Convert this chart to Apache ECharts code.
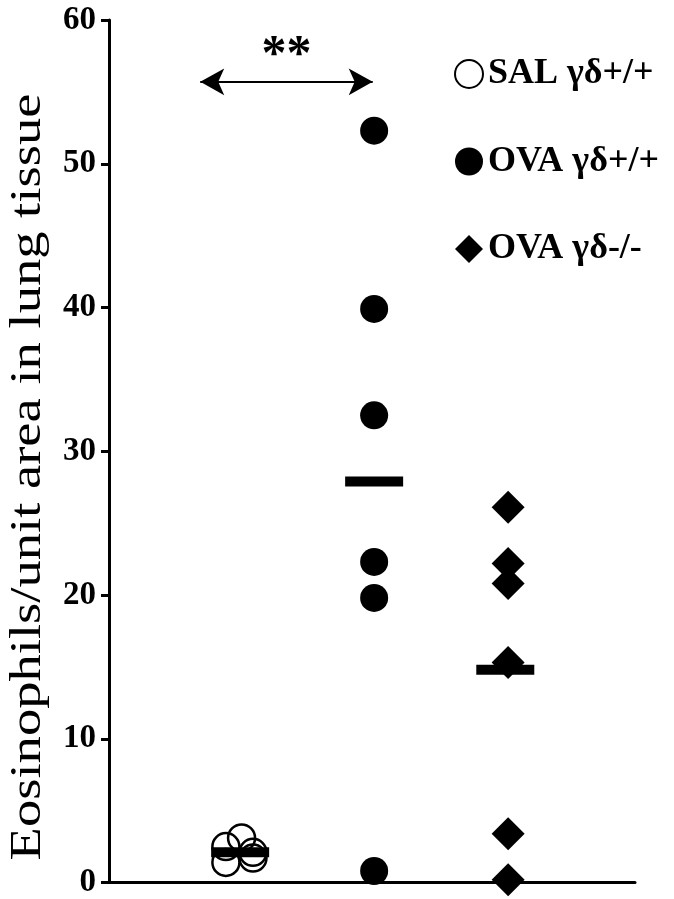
<!DOCTYPE html>
<html>
<head>
<meta charset="utf-8">
<script src="https://cdn.jsdelivr.net/npm/echarts@6/dist/echarts.min.js"></script>
<style>
  html, body { margin: 0; padding: 0; background: #fff; }
  #chart { width: 674px; height: 899px; }
</style>
</head>
<body>
<div id="chart"></div>
<script>
// group names (legend)
var groupNames = ['SAL γδ+/+', 'OVA γδ+/+', 'OVA γδ-/-'];

// x positions (hidden value axis, group centres plus small jitter)
var salX = [0.93, 0.82, 1.01, 0.82, 1.01];
var ovaPosX = [1.86, 1.86, 1.86, 1.86, 1.86, 1.86];
var ovaNegX = [2.80, 2.80, 2.80, 2.80, 2.80, 2.80];

// eosinophils / unit area
var salY = [3.1, 2.5, 2.1, 1.4, 1.7];
var ovaPosY = [52.3, 39.9, 32.5, 22.3, 19.8, 0.8];
var ovaNegY = [26.1, 22.2, 20.8, 15.3, 3.4, 0.2];

// group means (horizontal bars)
var meanX = [0.92, 1.86, 2.78];
var meanY = [2.1, 27.9, 14.8];

// significance bracket between SAL and OVA+/+
var arrowX = [0.64, 1.85];
var arrowY = 55.7;

var yTicks = [0, 10, 20, 30, 40, 50, 60];

function pairs(xs, ys) {
  return ys.map(function (v, i) { return [xs[i], v]; });
}

var serif = '"Liberation Serif", "Times New Roman", serif';

var chart = echarts.init(document.getElementById('chart'));
chart.setOption({
  backgroundColor: '#fff',
  animation: false,
  grid: { left: 109, right: 39, top: 20, bottom: 16 },
  legend: {
    data: groupNames,
    orient: 'vertical',
    left: 449,
    top: 51,
    itemGap: 51.5,
    itemWidth: 28,
    itemHeight: 28,
    selectedMode: false,
    textStyle: { fontFamily: serif, fontWeight: 'bold', fontSize: 36, color: '#000', padding: [0, 0, 0, 0] }
  },
  xAxis: {
    type: 'value',
    min: 0,
    max: 3.69,
    axisLine: { show: true, onZero: false, lineStyle: { color: '#000', width: 3 } },
    axisTick: { show: false },
    axisLabel: { show: false },
    splitLine: { show: false }
  },
  yAxis: {
    type: 'value',
    min: yTicks[0],
    max: yTicks[yTicks.length - 1],
    interval: 10,
    axisLine: { show: true, lineStyle: { color: '#000', width: 3 } },
    axisTick: { show: true, inside: false, length: 8, lineStyle: { color: '#000', width: 3 } },
    axisLabel: { fontFamily: serif, fontWeight: 'bold', fontSize: 33, color: '#000', margin: 13 },
    splitLine: { show: false }
  },
  graphic: [{
    type: 'text',
    x: 28,
    y: 477,
    rotation: Math.PI / 2,
    scaleX: 1.24,
    style: {
      text: 'Eosinophils/unit area in lung tissue',
      font: '44px ' + serif,
      fill: '#000',
      textAlign: 'center',
      textVerticalAlign: 'middle'
    }
  }],
  series: [
    {
      name: groupNames[0],
      type: 'scatter',
      symbol: 'circle',
      symbolSize: 27,
      clip: false,
      itemStyle: { color: 'rgba(255,255,255,0)', borderColor: '#000', borderWidth: 2.5, opacity: 1 },
      data: pairs(salX, salY)
    },
    {
      name: groupNames[1],
      type: 'scatter',
      symbol: 'circle',
      symbolSize: 28,
      clip: false,
      itemStyle: { color: '#000', opacity: 1 },
      data: pairs(ovaPosX, ovaPosY)
    },
    {
      name: groupNames[2],
      type: 'scatter',
      symbol: 'diamond',
      symbolSize: 33,
      clip: false,
      itemStyle: { color: '#000', opacity: 1 },
      data: pairs(ovaNegX, ovaNegY)
    },
    {
      name: 'mean',
      type: 'scatter',
      symbol: 'rect',
      symbolSize: [58, 10],
      clip: false,
      z: 5,
      itemStyle: { color: '#000', opacity: 1 },
      data: pairs(meanX, meanY),
      markLine: {
        silent: true,
        symbol: ['arrow', 'arrow'],
        symbolSize: [20, 24],
        lineStyle: { color: '#000', width: 2, type: 'solid' },
        label: {
          show: true,
          position: 'middle',
          formatter: '**',
          fontFamily: serif,
          fontWeight: 'bold',
          fontSize: 50,
          color: '#000',
          distance: 1
        },
        data: [[
          { coord: [arrowX[0], arrowY] },
          { coord: [arrowX[1], arrowY] }
        ]]
      }
    }
  ]
});
</script>
</body>
</html>
